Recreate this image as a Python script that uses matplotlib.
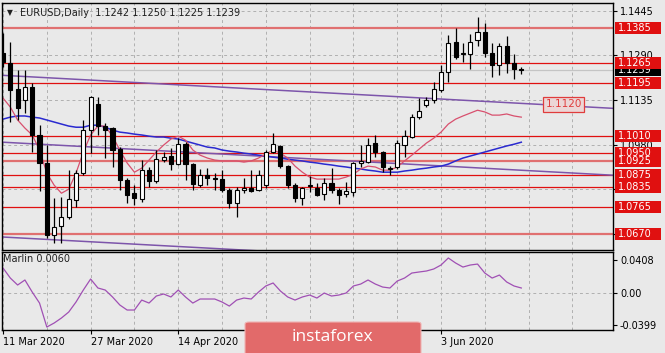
import matplotlib
matplotlib.use('Agg')
import matplotlib.pyplot as plt
from matplotlib.patches import Rectangle, FancyBboxPatch
from matplotlib.transforms import blended_transform_factory
import numpy as np

# daily bars, 11 Mar 2020 .. 18 Jun 2020
opens = [1.1298, 1.1264, 1.1173, 1.1135, 1.1180, 1.1014, 1.0917, 1.0667, 1.0700, 1.0729,
         1.0789, 1.0882, 1.1031, 1.1121, 1.1045, 1.1038, 1.0965, 1.0858, 1.0812, 1.0792,
         1.0892, 1.0854, 1.0927, 1.0941, 1.0913, 1.0983, 1.0913, 1.0840, 1.0875, 1.0865,
         1.0861, 1.0823, 1.0778, 1.0823, 1.0830, 1.0823, 1.0840, 1.0955, 1.0976, 1.0906,
         1.0840, 1.0795, 1.0837, 1.0830, 1.0809, 1.0847, 1.0823, 1.0809, 1.0816, 1.0917,
         1.0920, 1.0986, 1.0955, 1.0896, 1.0903, 1.0979, 1.1007, 1.1076, 1.1118, 1.1135,
         1.1170, 1.1234, 1.1337, 1.1295, 1.1295, 1.1343, 1.1372, 1.1297, 1.1257, 1.1323,
         1.1265, 1.1242]
highs = [1.1368, 1.1336, 1.1239, 1.1239, 1.1194, 1.1048, 1.0979, 1.0795, 1.0799, 1.0892,
         1.0892, 1.1066, 1.1149, 1.1146, 1.1055, 1.1041, 1.0972, 1.0865, 1.0840, 1.0927,
         1.0903, 1.0962, 1.0955, 1.0969, 1.1003, 1.0990, 1.0917, 1.0896, 1.0899, 1.0882,
         1.0892, 1.0830, 1.0833, 1.0865, 1.0892, 1.0892, 1.0962, 1.1020, 1.0979, 1.0910,
         1.0847, 1.0833, 1.0872, 1.0847, 1.0865, 1.0899, 1.0830, 1.0851, 1.0920, 1.0979,
         1.1003, 1.1014, 1.0958, 1.0906, 1.0996, 1.1031, 1.1087, 1.1142, 1.1146, 1.1198,
         1.1257, 1.1361, 1.1384, 1.1332, 1.1364, 1.1422, 1.1403, 1.1332, 1.1332, 1.1357,
         1.1295, 1.1250]
lows = [1.1250, 1.1059, 1.1066, 1.1090, 1.0955, 1.0820, 1.0657, 1.0639, 1.0639, 1.0722,
        1.0764, 1.0875, 1.0951, 1.1014, 1.0934, 1.0903, 1.0823, 1.0778, 1.0771, 1.0781,
        1.0833, 1.0847, 1.0920, 1.0892, 1.0910, 1.0858, 1.0823, 1.0833, 1.0840, 1.0823,
        1.0816, 1.0761, 1.0729, 1.0812, 1.0816, 1.0820, 1.0830, 1.0951, 1.0899, 1.0830,
        1.0781, 1.0771, 1.0816, 1.0802, 1.0788, 1.0813, 1.0774, 1.0799, 1.0802, 1.0903,
        1.0917, 1.0938, 1.0885, 1.0875, 1.0896, 1.0938, 1.1003, 1.1069, 1.1111, 1.1125,
        1.1163, 1.1199, 1.1276, 1.1268, 1.1242, 1.1323, 1.1285, 1.1216, 1.1222, 1.1228,
        1.1207, 1.1225]
closes = [1.1267, 1.1170, 1.1107, 1.1180, 1.1014, 1.0917, 1.0667, 1.0694, 1.0729, 1.0792,
          1.0882, 1.1031, 1.1146, 1.1045, 1.1031, 1.0962, 1.0858, 1.0806, 1.0795, 1.0892,
          1.0854, 1.0931, 1.0937, 1.0913, 1.0983, 1.0913, 1.0844, 1.0875, 1.0865, 1.0862,
          1.0823, 1.0778, 1.0823, 1.0830, 1.0820, 1.0875, 1.0955, 1.0983, 1.0906, 1.0840,
          1.0795, 1.0830, 1.0840, 1.0806, 1.0847, 1.0823, 1.0806, 1.0820, 1.0917, 1.0924,
          1.0979, 1.0955, 1.0903, 1.0899, 1.0986, 1.1010, 1.1076, 1.1097, 1.1135, 1.1173,
          1.1232, 1.1334, 1.1285, 1.1299, 1.1337, 1.1372, 1.1297, 1.1257, 1.1323, 1.1263,
          1.1242, 1.1239]

ma_fast = [1.1142, 1.1111, 1.1066, 1.1038, 1.1014, 1.0962, 1.0882, 1.0840, 1.0812, 1.0826,
           1.0882, 1.0955, 1.1014, 1.1045, 1.1045, 1.1010, 1.0962, 1.0917, 1.0885, 1.0899,
           1.0927, 1.0955, 1.0979, 1.1000, 1.1010, 1.0996, 1.0962, 1.0944, 1.0934, 1.0927,
           1.0924, 1.0924, 1.0924, 1.0920, 1.0924, 1.0934, 1.0948, 1.0962, 1.0951, 1.0934,
           1.0906, 1.0885, 1.0868, 1.0861, 1.0861, 1.0861, 1.0861, 1.0868, 1.0878, 1.0896,
           1.0906, 1.0903, 1.0892, 1.0892, 1.0903, 1.0924, 1.0944, 1.0965, 1.0986, 1.1003,
           1.1024, 1.1052, 1.1069, 1.1080, 1.1090, 1.1100, 1.1094, 1.1083, 1.1083, 1.1087,
           1.1080, 1.1076]
ma_slow = [1.1069, 1.1076, 1.1080, 1.1080, 1.1076, 1.1073, 1.1066, 1.1059, 1.1052, 1.1045,
           1.1041, 1.1041, 1.1048, 1.1048, 1.1041, 1.1031, 1.1024, 1.1021, 1.1017, 1.1014,
           1.1010, 1.1007, 1.1007, 1.1003, 1.1000, 1.0993, 1.0986, 1.0979, 1.0972, 1.0969,
           1.0962, 1.0958, 1.0955, 1.0951, 1.0948, 1.0944, 1.0941, 1.0937, 1.0934, 1.0930,
           1.0927, 1.0924, 1.0920, 1.0917, 1.0913, 1.0910, 1.0906, 1.0903, 1.0899, 1.0896,
           1.0892, 1.0889, 1.0885, 1.0885, 1.0885, 1.0889, 1.0892, 1.0896, 1.0899, 1.0903,
           1.0906, 1.0913, 1.0924, 1.0934, 1.0941, 1.0948, 1.0955, 1.0962, 1.0969, 1.0976,
           1.0982, 1.0989]
marlin = [0.0309, 0.0185, 0.0099, 0.0161, 0.0012, -0.0124, -0.0420, -0.0371, -0.0309, -0.0235,
          -0.0111, 0.0037, 0.0173, 0.0062, 0.0037, -0.0049, -0.0148, -0.0210, -0.0210, -0.0087,
          -0.0124, -0.0037, -0.0012, -0.0049, 0.0037, -0.0049, -0.0124, -0.0074, -0.0074, -0.0074,
          -0.0111, -0.0161, -0.0087, -0.0062, -0.0074, 0.0012, 0.0087, 0.0124, 0.0025, -0.0049,
          -0.0087, -0.0049, -0.0025, -0.0062, 0.0000, -0.0037, -0.0025, 0.0000, 0.0087, 0.0111,
          0.0161, 0.0111, 0.0074, 0.0062, 0.0148, 0.0185, 0.0247, 0.0260, 0.0272, 0.0297,
          0.0346, 0.0433, 0.0371, 0.0321, 0.0346, 0.0358, 0.0247, 0.0185, 0.0222, 0.0136,
          0.0087, 0.0062]

# horizontal levels, the pale ones drawn thicker
levels = [1.1385, 1.1265, 1.1195, 1.1010, 1.0950, 1.0925, 1.0875, 1.0835, 1.0765, 1.0670]
pale_levels = [1.1385, 1.0925, 1.0670]
# parallel channel lines: price at first bar, slope per bar
trend_start = [1.1221, 1.0989, 1.0660]
trend_slope = -0.000137
price_ticks = [1.1445, 1.1290, 1.1135, 1.0980, 1.0825, 1.0670]
price_tick_labels = ['1.1445', '1.1290', '1.1135', '1.0980', '', '']
bid = 1.1239
marlin_ticks = [0.0408, 0.0, -0.0399]
marlin_tick_labels = ['0.0408', '0.00', '-0.0399']
date_idx = [0, 12, 24, 36, 48, 60]
date_labels = ['11 Mar 2020', '27 Mar 2020', '14 Apr 2020', '', '', '3 Jun 2020']
header = 'EURUSD,Daily  1.1242 1.1250 1.1225 1.1239'

BG = '#e9e9e9'
RED = '#e01010'
W, H = 665, 353
plt.rcParams['font.family'] = ['DejaVu Sans']
plt.rcParams['font.size'] = 7

fig = plt.figure(figsize=(W / 100, H / 100), dpi=100, facecolor=BG)
ax = fig.add_axes([2 / W, 1 - 250 / H, 611 / W, 247 / H], facecolor=BG)
sub = fig.add_axes([2 / W, 1 - 330 / H, 611 / W, 78 / H], facecolor=BG)

xmin, xmax = -0.14, 83.56
ax.set_xlim(xmin, xmax)
ax.set_ylim(1.0615, 1.1472)
sub.set_xlim(xmin, xmax)
sub.set_ylim(-0.0457, 0.0507)

# grid
for g in range(0, 84, 6):
    ax.axvline(g, color='#b0b0b0', lw=0.7, ls=(0, (3, 3)), zorder=0)
    sub.axvline(g, color='#b0b0b0', lw=0.7, ls=(0, (3, 3)), zorder=0)
for p in price_ticks:
    ax.axhline(p, color='#b0b0b0', lw=0.7, ls=(0, (3, 3)), zorder=0)
sub.axhline(0, color='#b0b0b0', lw=0.7, ls=(0, (3, 3)), zorder=0)

# levels
for lv in levels:
    if lv in pale_levels:
        ax.axhline(lv, color='#e07070', lw=1.6, zorder=1)
    else:
        ax.axhline(lv, color=RED, lw=0.9, zorder=1)
ax.axhline(bid, color='#c4c4c4', lw=0.9, zorder=1)

# channel lines
xs = np.array([xmin, xmax])
for s in trend_start:
    ax.plot(xs, s + trend_slope * xs, color='#7d55ab', lw=1.1, zorder=2)

idx = np.arange(len(closes))
ax.plot(idx, ma_slow, color='#2a2ad0', lw=1.1, zorder=2)
ax.plot(idx, ma_fast, color='#d8506e', lw=0.9, zorder=2)

# candles
bw = 0.56
for i in idx:
    o, h, l, c = opens[i], highs[i], lows[i], closes[i]
    ax.vlines(i, l, h, color='black', lw=0.9, zorder=3)
    lo, hi = min(o, c), max(o, c)
    if hi - lo < 0.00015:
        ax.hlines((o + c) / 2, i - bw / 2, i + bw / 2, color='black', lw=1.0, zorder=4)
    else:
        ax.add_patch(Rectangle((i - bw / 2, lo), bw, hi - lo,
                               fc='black' if c < o else 'white', ec='black', lw=0.8, zorder=4))

# in-chart label on the upper channel line
ax.text(76.8, 1.1120, '1.1120', color='#e03c3c', fontsize=7.5, ha='center', va='center', zorder=6,
        bbox=dict(boxstyle='square,pad=0.2', fc='#ecd6d6', ec='#e03c3c', lw=0.9))

# right price scale
ax.set_xticks([])
ax.yaxis.tick_right()
ax.set_yticks(price_ticks)
ax.set_yticklabels(price_tick_labels)
ax.tick_params(axis='y', length=3, width=0.8, pad=2, labelsize=7, colors='black')
for sp in ax.spines.values():
    sp.set_color('black')
    sp.set_linewidth(1.0)

tr = blended_transform_factory(ax.transAxes, ax.transData)
bx0 = 613 / 611
bwid = 46 / 611
bh = 12 * 0.000347
ax.add_patch(Rectangle((bx0, bid - bh / 2), bwid, bh, transform=tr, fc='black', ec='none',
                       clip_on=False, zorder=7))
ax.text(bx0 + 3 / 611, bid, '%.4f' % bid, transform=tr, color='white', fontsize=7,
        va='center', ha='left', clip_on=False, zorder=8)
for lv in [1.0950, 1.1385, 1.1265, 1.1195, 1.1010, 1.0925, 1.0875, 1.0835, 1.0765, 1.0670]:
    ax.add_patch(Rectangle((bx0, lv - bh / 2), bwid, bh, transform=tr, fc=RED, ec='none',
                           clip_on=False, zorder=9))
    ax.text(bx0 + 3 / 611, lv, '%.4f' % lv, transform=tr, color='white', fontsize=7,
            va='center', ha='left', clip_on=False, zorder=10)

# header
fig.text(7 / W, 1 - 13 / H, '\u25bc', fontsize=5.5, va='center', ha='left', color='#202020')
fig.text(20 / W, 1 - 13 / H, header, fontsize=7, va='center', ha='left', color='#202020')

# Marlin panel
sub.plot(idx, marlin, color='#a050b4', lw=0.9)
sub.text(5 / 611, 0.0415, 'Marlin 0.0060', fontsize=7, va='center', ha='left', color='#202020')
sub.yaxis.tick_right()
sub.set_yticks(marlin_ticks)
sub.set_yticklabels(marlin_tick_labels)
sub.tick_params(axis='y', length=3, width=0.8, pad=2, labelsize=7)
sub.set_xticks(date_idx)
sub.set_xticklabels(date_labels, ha='left')
sub.tick_params(axis='x', length=3, width=0.8, pad=2, labelsize=7)
for sp in sub.spines.values():
    sp.set_color('black')
    sp.set_linewidth(1.0)

# watermark
fig.add_artist(FancyBboxPatch((245 / W, -0.02), 176 / W, 31 / H + 0.02,
                              boxstyle='round,pad=0,rounding_size=0.006',
                              transform=fig.transFigure, fc='#e26a6a', ec='#f0b4b4', lw=0.8))
fig.text(332 / W, 1 - 337 / H, 'instaforex', fontsize=12.5, color='white',
         ha='center', va='center', family='Open Sans')

fig.savefig('out.png', dpi=100, facecolor=BG)
